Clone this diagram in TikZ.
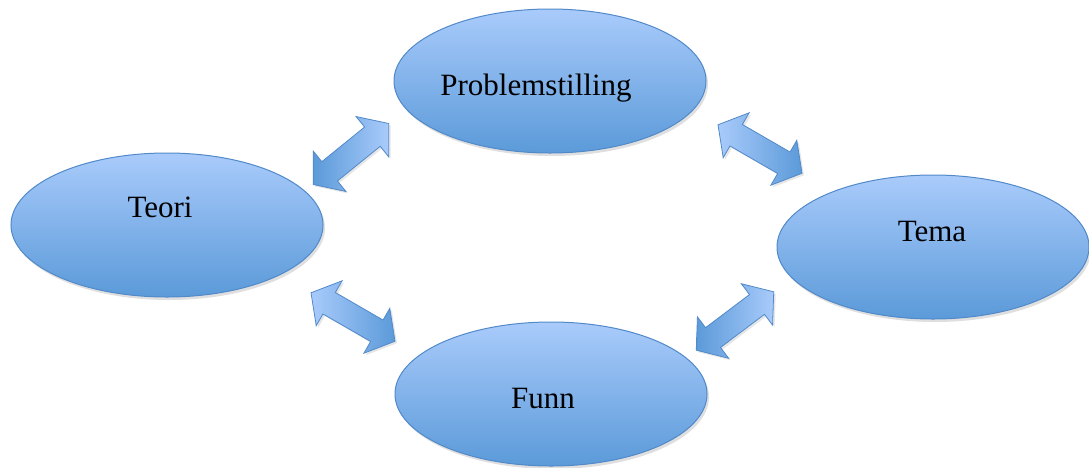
\documentclass[tikz,border=0pt]{standalone}
\usepackage{fontspec}
\setmainfont{Liberation Serif}
\usetikzlibrary{shapes.geometric,shapes.arrows,shadows}
\definecolor{bubbletop}{HTML}{A9CBFB}
\definecolor{bubblebottom}{HTML}{5B9AD9}
\definecolor{bubbleline}{HTML}{5189C9}
\begin{document}
\begin{tikzpicture}[x=1pt,y=-1pt,thick,
    main node/.style={ellipse,draw=bubbleline,line width=1pt,top color=bubbletop,bottom color=bubblebottom,
        minimum width=312pt,minimum height=144pt,inner sep=0pt,
        drop shadow={shadow xshift=2pt,shadow yshift=-3pt,opacity=0.25}},
    arrow node/.style={double arrow,draw=bubbleline,line width=0.8pt,
        minimum height=97pt,minimum width=51pt,inner sep=0pt,text height=24pt,text depth=0pt,
        double arrow tip angle=102,double arrow head extend=13.5pt,
        drop shadow={shadow xshift=2pt,shadow yshift=-2pt,opacity=0.2}},
    rising/.style={arrow node,left color=bubblebottom,right color=bubbletop},
    falling/.style={arrow node,left color=bubbletop,right color=bubblebottom},
    label node/.style={font=\fontsize{31}{31}\selectfont,anchor=base}]

    \useasboundingbox (0,0) rectangle (1089,467);

    \node[main node] (prob) at (550,81) {};
    \node[main node] (teori) at (167,225) {};
    \node[main node] (tema) at (933,247) {};
    \node[main node] (funn) at (551,394) {};

    \node[rising,rotate=39] (teoriprob) at (351,154) {};
    \node[falling,rotate=-30] (probtema) at (760,149) {};
    \node[falling,rotate=-30] (teorifunn) at (353,317) {};
    \node[rising,rotate=37] (funntema) at (735,321) {};

    \node[label node] (probtext) at (536,95) {Problemstilling};
    \node[label node] (teoritext) at (160,217) {Teori};
    \node[label node] (tematext) at (932,241) {Tema};
    \node[label node] (funntext) at (543,408) {Funn};
\end{tikzpicture}
\end{document}
